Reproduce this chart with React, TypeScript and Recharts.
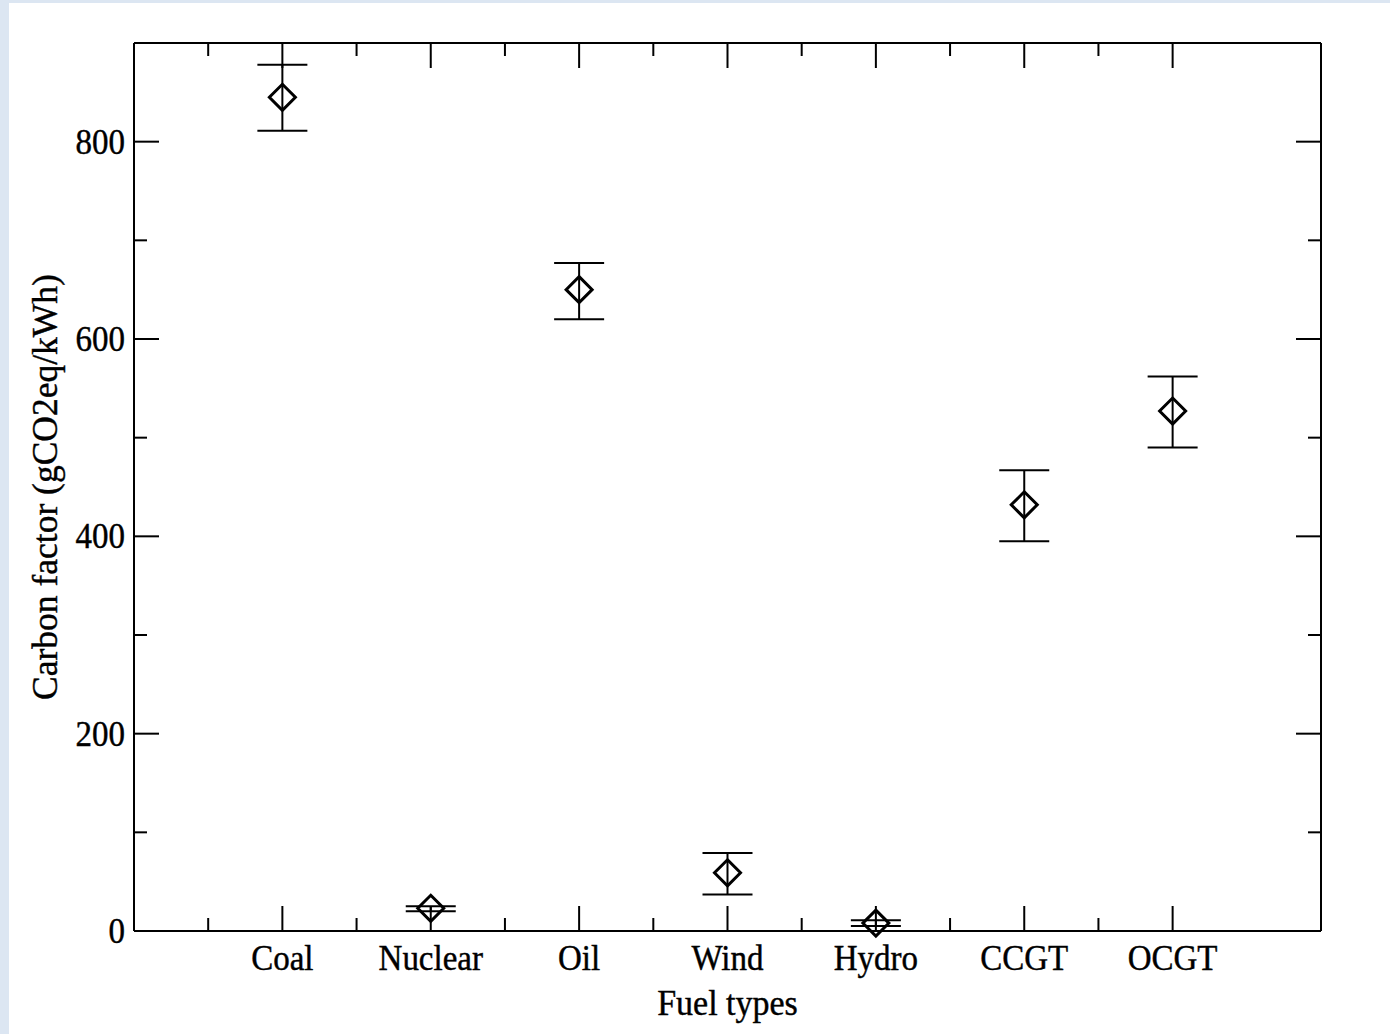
import React from 'react';
import { ScatterChart, Scatter, XAxis, YAxis, ErrorBar, Label } from 'recharts';

const categories = ['Coal', 'Nuclear', 'Oil', 'Wind', 'Hydro', 'CCGT', 'OCGT'];
const carbonFactor = [845, 23, 650, 59, 8, 432, 527];
const errorBelow = [34, 3, 30, 22, 3, 37, 37];
const errorAbove = [33, 2, 27, 20, 3, 35, 35];
const xMajorTicks = [1, 2, 3, 4, 5, 6, 7];
const xMinorTicks = [0.5, 1.5, 2.5, 3.5, 4.5, 5.5, 6.5];
const yMajorTicks = [0, 200, 400, 600, 800];
const yMinorTicks = [100, 300, 500, 700];

const xTicks = [...xMinorTicks, ...xMajorTicks].sort((a, b) => a - b);
const yTicks = [...yMinorTicks, ...yMajorTicks].sort((a, b) => a - b);

const data = categories.map((name, i) => ({
  x: i + 1,
  y: carbonFactor[i],
  name,
  err: [errorBelow[i], errorAbove[i]],
}));

const FONT = '"Liberation Serif", "Times New Roman", serif';
const FS = 33;
const MAJOR = 25;
const MINOR = 13;

const textStyle = {
  fontFamily: FONT,
  fontSize: FS,
  fill: '#000',
  stroke: '#000',
  strokeWidth: 0.4,
};

const BottomTick = (props: any) => {
  const { x, y, payload } = props;
  const v = payload.value as number;
  const major = xMajorTicks.includes(v);
  const ty = y + 27;
  return (
    <g>
      <line x1={x} y1={y} x2={x} y2={y - (major ? MAJOR : MINOR)} stroke="#000" strokeWidth={2} />
      {major && (
        <text
          x={x}
          y={ty}
          textAnchor="middle"
          dominantBaseline="central"
          transform={`translate(0 ${ty}) scale(1 1.07) translate(0 ${-ty})`}
          {...textStyle}
        >
          {categories[v - 1]}
        </text>
      )}
    </g>
  );
};

const TopTick = (props: any) => {
  const { x, y, payload } = props;
  const v = payload.value as number;
  const major = xMajorTicks.includes(v);
  return <line x1={x} y1={y} x2={x} y2={y + (major ? MAJOR : MINOR)} stroke="#000" strokeWidth={2} />;
};

const LeftTick = (props: any) => {
  const { x, y, payload } = props;
  const v = payload.value as number;
  const major = yMajorTicks.includes(v);
  return (
    <g>
      <line x1={x} y1={y} x2={x + (major ? MAJOR : MINOR)} y2={y} stroke="#000" strokeWidth={2} />
      {major && (
        <text
          x={x - 9}
          y={y}
          textAnchor="end"
          dominantBaseline="central"
          transform={`translate(0 ${y}) scale(1 1.07) translate(0 ${-y})`}
          {...textStyle}
        >
          {v}
        </text>
      )}
    </g>
  );
};

const RightTick = (props: any) => {
  const { x, y, payload } = props;
  const v = payload.value as number;
  const major = yMajorTicks.includes(v);
  return <line x1={x} y1={y} x2={x - (major ? MAJOR : MINOR)} y2={y} stroke="#000" strokeWidth={2} />;
};

const Diamond = (props: any) => {
  const { cx, cy } = props;
  const h = 13;
  return (
    <polygon
      points={`${cx},${cy - h} ${cx + h},${cy} ${cx},${cy + h} ${cx - h},${cy}`}
      fill="none"
      stroke="#000"
      strokeWidth={3}
    />
  );
};

const Nothing = () => <g />;

export default function App() {
  return (
    <div style={{ position: 'absolute', left: 0, top: 0, width: 1390, height: 1034, background: '#dce6f2', overflow: 'hidden' }}>
      <div style={{ position: 'absolute', left: 9, top: 3, right: 0, bottom: 0, background: '#ffffff' }} />
      <div style={{ position: 'absolute', left: 0, top: 0 }}>
        <ScatterChart width={1390} height={1034} margin={{ top: 0, right: 0, bottom: 0, left: 0 }}>
          <XAxis
            xAxisId="bottom"
            dataKey="x"
            type="number"
            orientation="bottom"
            domain={[0, 8]}
            ticks={xTicks}
            interval={0}
            height={103}
            tickSize={0}
            tickMargin={0}
            tickLine={false}
            tick={<BottomTick />}
            axisLine={{ stroke: '#000', strokeWidth: 2 }}
          >
            <Label
              content={({ viewBox }: any) => {
                const cx = viewBox.x + viewBox.width / 2;
                const cy = viewBox.y + 72;
                return (
                  <text
                    x={cx}
                    y={cy}
                    textAnchor="middle"
                    dominantBaseline="central"
                    transform={`translate(0 ${cy}) scale(1 1.07) translate(0 ${-cy})`}
                    {...textStyle}
                    fontSize={34}
                  >
                    Fuel types
                  </text>
                );
              }}
            />
          </XAxis>
          <XAxis
            xAxisId="top"
            dataKey="x"
            type="number"
            orientation="top"
            domain={[0, 8]}
            ticks={xTicks}
            interval={0}
            height={43}
            tickSize={0}
            tickMargin={0}
            tickLine={false}
            tick={<TopTick />}
            axisLine={{ stroke: '#000', strokeWidth: 2 }}
          />
          <YAxis
            yAxisId="left"
            dataKey="y"
            type="number"
            orientation="left"
            domain={[0, 900]}
            ticks={yTicks}
            interval={0}
            width={134}
            tickSize={0}
            tickMargin={0}
            tickLine={false}
            tick={<LeftTick />}
            axisLine={{ stroke: '#000', strokeWidth: 2 }}
          >
            <Label
              content={({ viewBox }: any) => {
                const cx = viewBox.x + 45;
                const cy = viewBox.y + viewBox.height / 2;
                return (
                  <text
                    x={cx}
                    y={cy}
                    transform={`rotate(-90 ${cx} ${cy})`}
                    textAnchor="middle"
                    dominantBaseline="central"
                    {...textStyle}
                    fontSize={35.5}
                  >
                    Carbon factor (gCO2eq/kWh)
                  </text>
                );
              }}
            />
          </YAxis>
          <YAxis
            yAxisId="right"
            dataKey="y"
            type="number"
            orientation="right"
            domain={[0, 900]}
            ticks={yTicks}
            interval={0}
            width={69}
            tickSize={0}
            tickMargin={0}
            tickLine={false}
            tick={<RightTick />}
            axisLine={{ stroke: '#000', strokeWidth: 2 }}
          />
          <Scatter
            data={data}
            xAxisId="top"
            yAxisId="right"
            dataKey="y"
            shape={<Nothing />}
            legendType="none"
            isAnimationActive={false}
          />
          <Scatter
            data={data}
            xAxisId="bottom"
            yAxisId="left"
            dataKey="y"
            shape={<Diamond />}
            isAnimationActive={false}
          >
            <ErrorBar dataKey="err" direction="y" width={25} stroke="#000" strokeWidth={2} isAnimationActive={false} />
          </Scatter>
        </ScatterChart>
      </div>
    </div>
  );
}
